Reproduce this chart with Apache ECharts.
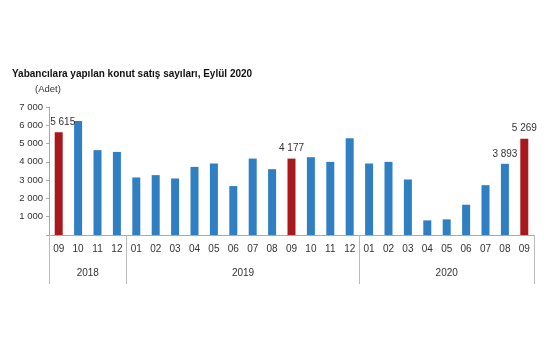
<!DOCTYPE html>
<html><head><meta charset="utf-8">
<script src="https://cdn.jsdelivr.net/npm/echarts@6/dist/echarts.min.js"></script>
<style>html,body{margin:0;padding:0;background:#fff}#c{width:555px;height:355px}</style>
</head><body><div id="c"></div>
<script>
const months = ['09','10','11','12','01','02','03','04','05','06','07','08','09','10','11','12','01','02','03','04','05','06','07','08','09'];
const values = [5615,6240,4640,4545,3145,3275,3090,3725,3910,2675,4180,3600,4177,4255,4000,5290,3910,4000,3035,800,855,1655,2725,3893,5269];
const highlighted = [0,12,24];
const labeled = [0,12,23,24];
const years = ['2018','2019','2020'];
const yearBoundaries = [0,4,16,25];
const yTicks = [0,1000,2000,3000,4000,5000,6000,7000];

const BLUE = '#2f7fc2', RED = '#a8191d';
const fmt = v => String(v).replace(/\B(?=(\d{3})+(?!\d))/g, ' ');
const yearCenters = years.map((y,i)=> (yearBoundaries[i]+yearBoundaries[i+1])/2);

const chart = echarts.init(document.getElementById('c'));
chart.setOption({
  animation:false,
  textStyle:{fontFamily:'Liberation Sans, Arial, sans-serif'},
  title:[
    {text:'Yabancılara yapılan konut satış sayıları, Eylül 2020', left:7, top:64,
     textStyle:{fontSize:10, fontWeight:'bold', color:'#111', fontFamily:'Liberation Sans, Arial, sans-serif'}},
    {text:'(Adet)', left:30, top:79, textStyle:{fontSize:9.5, fontWeight:'normal', color:'#333', fontFamily:'Liberation Sans, Arial, sans-serif'}}
  ],
  grid:{left:49, right:21, top:107, bottom:120},
  xAxis:[
    {type:'category', data:months, position:'bottom',
     axisLine:{lineStyle:{color:'#aaa'}},
     axisTick:{interval:0, length:25, lineStyle:{color:'#bbb'}},
     axisLabel:{interval:0, margin:9, fontSize:10, color:'#333'}},
    {type:'value', min:0, max:25, position:'bottom',
     axisLine:{show:false}, splitLine:{show:false},
     axisTick:{show:true, customValues:yearBoundaries, length:49, lineStyle:{color:'#bbb'}},
     axisLabel:{customValues:yearCenters, margin:33, fontSize:10, color:'#333',
       formatter:(v)=>{const i=yearCenters.indexOf(v);return i>=0?years[i]:'';}}}
  ],
  yAxis:{type:'value', min:0, max:7000, interval:1000,
    axisLine:{show:true, lineStyle:{color:'#aaa'}},
    axisTick:{show:true, length:3, lineStyle:{color:'#aaa'}},
    splitLine:{show:false},
    axisLabel:{fontSize:9.5, color:'#333', margin:6, formatter:v=> v===0?'':fmt(v)}},
  series:[{type:'bar', xAxisIndex:0, barWidth:8,
    data: values.map((v,i)=>({value:v, itemStyle:{color: highlighted.includes(i)?RED:BLUE},
      label:{show: labeled.includes(i), offset: i===0?[4,0]:[0,0]}})),
    label:{position:'top', distance:5, fontSize:10, color:'#333', formatter:p=>fmt(p.value)}
  }]
});
</script></body></html>
